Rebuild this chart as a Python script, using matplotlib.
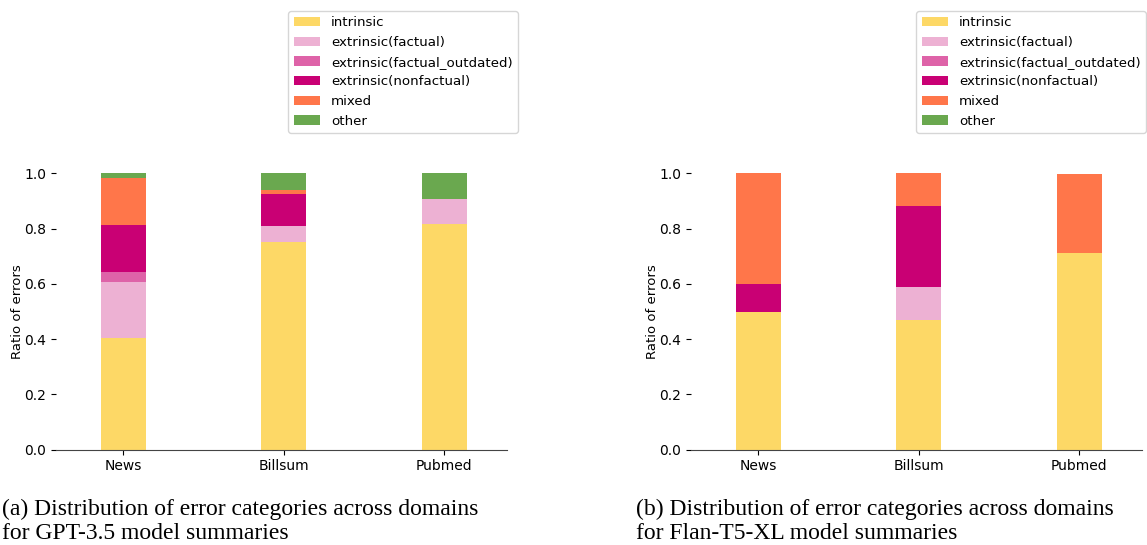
import matplotlib
matplotlib.use("Agg")
import matplotlib.pyplot as plt
import numpy as np

domains = ["News", "Billsum", "Pubmed"]
categories = ["intrinsic", "extrinsic(factual)", "extrinsic(factual_outdated)",
              "extrinsic(nonfactual)", "mixed", "other"]
colors = ["#FDD866", "#EDB1D3", "#DE63A8", "#C90074", "#FF764A", "#6AA84F"]

# GPT-3.5 ratios per category (News, Billsum, Pubmed)
gpt_intrinsic = [0.404, 0.751, 0.816]
gpt_ext_factual = [0.203, 0.058, 0.090]
gpt_ext_outdated = [0.036, 0.0, 0.0]
gpt_ext_nonfactual = [0.170, 0.116, 0.0]
gpt_mixed = [0.171, 0.014, 0.0]
gpt_other = [0.016, 0.061, 0.094]

# Flan-T5-XL ratios
flan_intrinsic = [0.500, 0.470, 0.712]
flan_ext_factual = [0.0, 0.117, 0.0]
flan_ext_outdated = [0.0, 0.0, 0.0]
flan_ext_nonfactual = [0.100, 0.295, 0.0]
flan_mixed = [0.400, 0.118, 0.284]
flan_other = [0.0, 0.0, 0.0]

gpt = [gpt_intrinsic, gpt_ext_factual, gpt_ext_outdated, gpt_ext_nonfactual, gpt_mixed, gpt_other]
flan = [flan_intrinsic, flan_ext_factual, flan_ext_outdated, flan_ext_nonfactual, flan_mixed, flan_other]

captions = ["(a) Distribution of error categories across domains\nfor GPT-3.5 model summaries",
            "(b) Distribution of error categories across domains\nfor Flan-T5-XL model summaries"]

fig = plt.figure(figsize=(11.47, 5.45), dpi=100)
W, H = 1147, 545
ax_boxes = [(56, 507), (691, 1142)]
y0_px, y1_px = 449.7, 173.3

for i, (data, (xl, xr)) in enumerate(zip([gpt, flan], ax_boxes)):
    ax = fig.add_axes([xl / W, 1 - y0_px / H, (xr - xl) / W, (y0_px - y1_px) / H])
    x = np.arange(len(domains))
    bottom = np.zeros(len(domains))
    for cat, vals, col in zip(categories, data, colors):
        vals = np.array(vals)
        ax.bar(x, vals, width=0.28, bottom=bottom, color=col, label=cat)
        bottom += vals
    ax.set_xlim(-0.42, 2.39)
    ax.set_ylim(0, 1.0)
    ax.set_xticks(x)
    ax.set_xticklabels(domains, fontsize=10)
    ax.set_yticks([0, 0.2, 0.4, 0.6, 0.8, 1.0])
    ax.set_yticklabels(["0.0", "0.2", "0.4", "0.6", "0.8", "1.0"], fontsize=10)
    for s in ["top", "right", "left"]:
        ax.spines[s].set_visible(False)
    ax.spines["bottom"].set_color("#444444")
    ax.set_ylabel("Ratio of errors", fontsize=9.5, labelpad=0)
    ax.legend(loc="upper right", bbox_to_anchor=((518 if i == 0 else 1146) / W, 1 - 11 / H),
              bbox_transform=fig.transFigure, fontsize=9.6, frameon=True,
              handlelength=2.0, labelspacing=0.5, borderaxespad=0)
    fig.text((2 if i == 0 else 636) / W, 1 - 499 / H, captions[i], ha="left", va="top",
             fontsize=17, family="Liberation Serif", linespacing=1.2)

fig.savefig("out.png", dpi=100)
